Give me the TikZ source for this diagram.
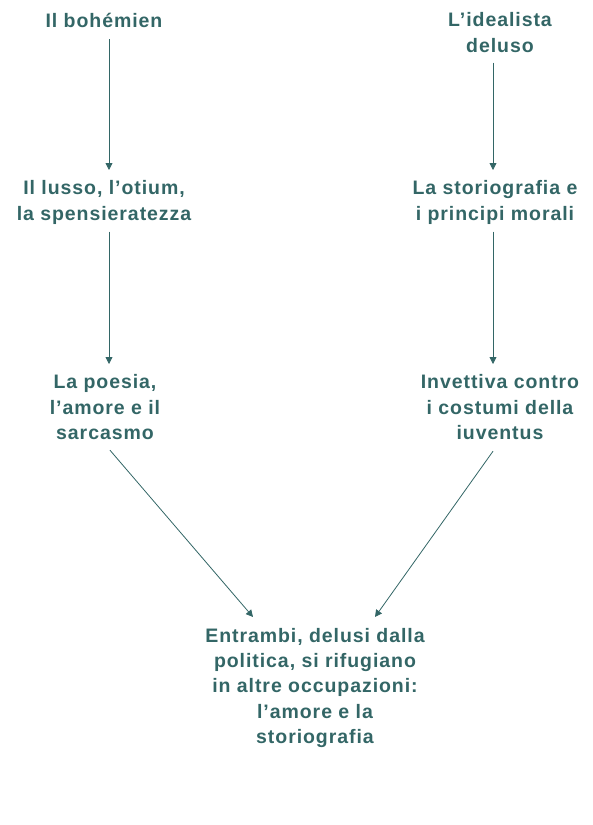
\documentclass[tikz,border=0pt]{standalone}
\usepackage{fontspec}
\setmainfont[LetterSpace=4.8]{Liberation Sans}
\usetikzlibrary{arrows.meta}
\definecolor{teal1}{RGB}{51,102,102}
\tikzset{
  lbl/.style={anchor=north, inner sep=0pt, align=center, text=teal1,
    font=\fontsize{19.5}{25.3}\selectfont\bfseries},
  arr/.style={draw=teal1, line width=0.8pt, -{Triangle[length=7pt,width=7pt]}}
}
\begin{document}
\begin{tikzpicture}[x=1pt,y=1pt]
\useasboundingbox (0,0) rectangle (592,-825);
\node[lbl] (b1) at (104,-12.5) {Il bohémien};
\node[lbl] (i1) at (500,-12.5) {L’idealista\\deluso};
\node[lbl] (b2) at (104,-180.5) {Il lusso, l’otium,\\la spensieratezza};
\node[lbl] (i2) at (495,-180.5) {La storiografia e\\i principi morali};
\node[lbl] (b3) at (105,-374.5) {La poesia,\\l’amore e il\\sarcasmo};
\node[lbl] (i3) at (500,-374.5) {Invettiva contro\\i costumi della\\iuventus};
\node[lbl] (c) at (315,-628) {Entrambi, delusi dalla\\politica, si rifugiano\\in altre occupazioni:\\l’amore e la\\storiografia};
\draw[arr] ([shift={(5,-12)}]b1.south) -- ([shift={(5,10.5)}]b2.north);
\draw[arr] ([shift={(-7,-10)}]i1.south) -- ([shift={(-2,10.5)}]i2.north);
\draw[arr] ([shift={(5,-7.3)}]b2.south) -- ([shift={(4,10.5)}]b3.north);
\draw[arr] ([shift={(-2,-7.3)}]i2.south) -- ([shift={(-7,10.5)}]i3.north);
\draw[arr] ([shift={(5,-10.4)}]b3.south) -- ([shift={(-62,11)}]c.north);
\draw[arr] ([shift={(-7,-11.4)}]i3.south) -- ([shift={(60,11)}]c.north);
\end{tikzpicture}
\end{document}
